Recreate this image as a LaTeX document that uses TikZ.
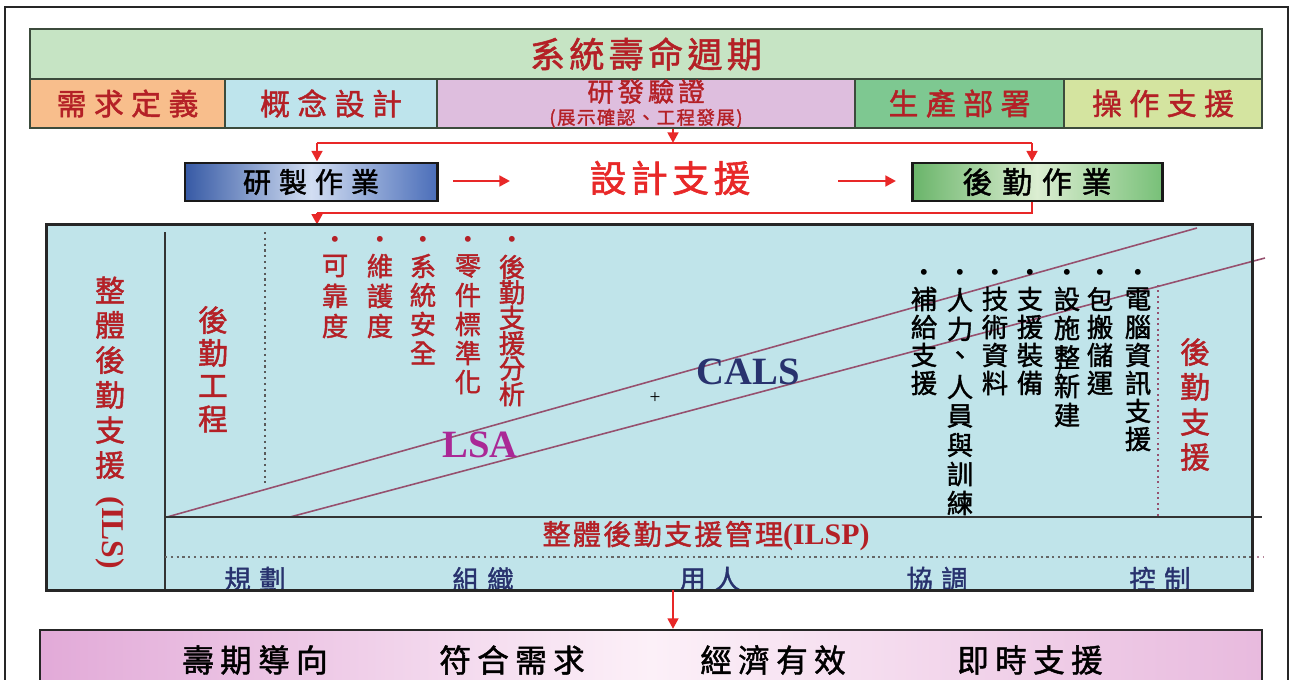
\documentclass[tikz,border=0pt]{standalone}
\usepackage{fontspec}
\setmainfont{Liberation Serif}
\newfontfamily\cjk{Noto Sans CJK TC}[FakeBold=1.5]
\newfontfamily\tms{Liberation Serif}
\usetikzlibrary{arrows.meta}
\definecolor{hdrg}{RGB}{198,228,196}
\definecolor{corange}{RGB}{248,190,140}
\definecolor{cblue}{RGB}{190,228,236}
\definecolor{cpurple}{RGB}{222,190,222}
\definecolor{cgreen}{RGB}{126,200,145}
\definecolor{cygreen}{RGB}{212,228,160}
\definecolor{mainfill}{RGB}{192,228,234}
\definecolor{tred}{RGB}{180,32,38}
\definecolor{lred}{RGB}{232,40,40}
\definecolor{navy}{RGB}{40,50,110}
\definecolor{lsac}{RGB}{170,40,150}
\definecolor{diag}{RGB}{150,80,110}
\definecolor{hdrline}{RGB}{60,75,60}
\definecolor{bdark}{RGB}{55,90,165}
\definecolor{blight}{RGB}{210,222,242}
\definecolor{bmid}{RGB}{75,110,185}
\definecolor{gdark}{RGB}{105,180,105}
\definecolor{glight}{RGB}{220,238,210}
\definecolor{gmid}{RGB}{120,192,120}
\definecolor{pdark}{RGB}{226,170,216}
\definecolor{plight}{RGB}{252,240,248}
\definecolor{pmid}{RGB}{232,186,222}
\newcommand\pxu{0.02cm}
\newcommand\fs[2]{\fontsize{#1}{#2}\selectfont}
\newcommand\ls[1]{\addfontfeatures{LetterSpace=#1}}
\newcommand\vtxt[6]{\foreach \ch [count=\i from 0] in {#6}{\node[#5] (#1-\i) at (#2,{#3+\i*#4}) {\ch};}}
\begin{document}
\begin{tikzpicture}[x=0.02cm,y=-0.02cm,
  wh/.style 2 args={minimum width={#1*\pxu}, minimum height={#2*\pxu}},
  cell/.style={draw=hdrline, line width=1.1pt, inner sep=0pt},
  rowtxt/.style={font=\cjk\fs{17}{20}\ls{25}, text=tred},
  tx/.style={inner sep=0pt, anchor=center},
  redv/.style={tx, font=\cjk\fs{15}{17}, text=tred},
  redbig/.style={tx, font=\cjk\fs{17}{19}, text=tred},
  blkv/.style={tx, font=\cjk\fs{15}{17}, text=black},
  bul/.style={tx, font=\tms\fs{14}{15}},
  redline/.style={draw=lred, line width=1.6pt},
  redarrow/.style={redline, -{Triangle[length=6pt,width=6pt]}},
  opbox/.style={draw=black!90, line width=1.7pt, inner sep=0pt}
]
\useasboundingbox (0,0) rectangle (1290,679);
\fill[white] (0,0) rectangle (1290,679);
\draw[line width=1.1pt, black!85] (5,700) -- (5,7) -- (1288,7) -- (1288,700);

% header
\node[cell, fill=hdrg, wh={1232}{50}, font=\cjk\fs{20}{22}\ls{12}, text=tred] (title) at (646,54) {系統壽命週期};
\node[cell, fill=corange, wh={195}{49}, rowtxt] (c1) at (127.5,103.5) {需求定義};
\node[cell, fill=cblue, wh={212}{49}, rowtxt] (c2) at (331,103.5) {概念設計};
\node[cell, fill=cpurple, wh={418}{49}, align=center, text=tred, font=\cjk\fs{10.5}{13}] (c3) at (646,103.5)
  {{\cjk\fs{15}{17}\ls{15}研發驗證}\\[0pt]{\cjk\fs{10.5}{12}\ls{8}(展示確認、工程發展)}};
\node[cell, fill=cgreen, wh={209}{49}, rowtxt] (c4) at (959.5,103.5) {生產部署};
\node[cell, fill=cygreen, wh={198}{49}, rowtxt] (c5) at (1163,103.5) {操作支援};

% operation boxes
\node[opbox, left color=bdark, right color=bmid, middle color=blight,
  wh={252}{38}, font=\cjk\fs{16}{18}\ls{28}] (rz) at (311,182) {研製作業};
\node[opbox, left color=gdark, right color=gmid, middle color=glight,
  wh={250}{38}, font=\cjk\fs{17}{19}\ls{33}] (hq) at (1037,182) {後勤作業};
\node[tx, font=\cjk\fs{21}{24}\ls{12}, text=lred] (ds) at (670,178) {設計支援};

% red connectors
\coordinate (j1) at (673,143);
\coordinate (tl) at (317,143);
\coordinate (tr) at (1032,143);
\coordinate (bl) at (317,213);
\coordinate (br) at (1032,213);
\draw[redarrow] (c3.south -| j1) -- (j1);
\draw[redline] (tl) -- (tr);
\draw[redarrow] (tl) -- (rz.north -| tl);
\draw[redarrow] (tr) -- (hq.north -| tr);
\draw[redline] (hq.south -| br) -- (br) -- (bl);
\coordinate (a1s) at (453,181); \coordinate (a1e) at (510,181);
\coordinate (a2s) at (838,181); \coordinate (a2e) at (896,181);
\draw[redarrow] (a1s) -- (a1e);
\draw[redarrow] (a2s) -- (a2e);

% main box
\node[fill=mainfill, draw=none, inner sep=0pt, wh={1205}{365}] (main) at (649.5,407.5) {};
\draw[redarrow] (bl) -- (main.north -| bl);
\draw[black!80, line width=1.2pt] (165,232) -- (165,590);
\draw[black!65, dotted, line width=1.3pt] (265,232) -- (265,483);
\draw[diag, line width=0.9pt] (167,517) -- (1197,228);
\draw[diag, line width=0.9pt] (290,517) -- (1265,258);
\draw[black!80, line width=1.2pt] (165,517) -- (1262,517);
\draw[black!60, dotted, line width=1.3pt] (165,557) -- (1252,557);
\draw[diag!70, dotted, line width=1.1pt] (1252,557) -- (1264,557);
\draw[diag, dotted, line width=1.1pt] (1158,285) -- (1158,517);

% left labels
\vtxt{ils}{110}{290}{35}{redbig}{整,體,後,勤,支,援}
\node[tx, rotate=-90, font=\tms\bfseries\fs{18}{20}, text=tred] (ilsl) at (110,533) {(ILS)};
\vtxt{le}{213}{320}{33}{redbig}{後,勤,工,程}

% red bullet items
\foreach \xx/\nm in {335/a,380/b,423/c,468/d,512/e}{\node[bul, text=tred] (bl-\nm) at (\xx,242) {•};}
\vtxt{ra}{335}{266}{30}{redv}{可,靠,度}
\vtxt{rb}{380}{266}{30}{redv}{維,護,度}
\vtxt{rc}{423}{266}{29}{redv}{系,統,安,全}
\vtxt{rd}{468}{266}{29}{redv}{零,件,標,準,化}
\vtxt{re}{512}{267}{25.4}{redv}{後,勤,支,援,分,析}

% black bullet items
\foreach \xx/\nm in {924/a,960/b,995/c,1030/d,1067/e,1100/f,1138/g}{\node[bul, text=black] (bk-\nm) at (\xx,275) {•};}
\vtxt{ka}{924}{299}{28}{blkv}{補,給,支,援}
\vtxt{kb}{960}{300}{29}{blkv}{人,力,、,人,員,與,訓,練}
\vtxt{kc}{995}{299}{28}{blkv}{技,術,資,料}
\vtxt{kd}{1030}{299}{28}{blkv}{支,援,裝,備}
\vtxt{ke}{1067}{299}{29}{blkv}{設,施,整,新,建}
\node[tx, font=\tms\bfseries\fs{13}{14}, text=black] (slash) at (1059,373) {/};
\vtxt{kf}{1100}{299}{28}{blkv}{包,搬,儲,運}
\vtxt{kg}{1138}{299}{28}{blkv}{電,腦,資,訊,支,援}
\vtxt{rs}{1195}{352}{35}{redbig}{後,勤,支,援}

% LSA / CALS
\node[tx, font=\tms\bfseries\fs{22}{24}, text=lsac] (lsa) at (480,445) {LSA};
\node[tx, font=\tms\bfseries\fs{22}{24}, text=navy] (cals) at (748,372) {CALS};
\node[tx, font=\tms\fs{11}{12}] (plus) at (655,398) {+};

% ILSP
\node[tx, text=tred] (ilsp) at (706,536) {{\cjk\fs{16}{18}\ls{8}整體後勤支援管理}{\tms\bfseries\fs{17}{19}(ILSP)}};

% bottom row labels
\foreach \xx/\tt/\nm in {255/規劃/a,483/組織/b,710/用人/c,937/協調/d,1160/控制/e}{
  \node[tx, font=\cjk\fs{15}{17}\ls{32}, text=navy] (m-\nm) at (\xx,579) {\tt};}

\draw[black!85, line width=1.7pt] (main.north west) rectangle (main.south east);

% bottom box
\node[draw=black!85, line width=1.2pt, inner sep=0pt, left color=pdark, right color=pmid, middle color=plight,
  wh={1222}{70}] (bot) at (651,665) {};
\coordinate (ar) at (673,600);
\draw[redarrow] (main.south -| ar) -- (bot.north -| ar);
\foreach \xx/\tt/\nm in {255/壽期導向/a,512/符合需求/b,773/經濟有效/c,1030/即時支援/d}{
  \node[tx, font=\cjk\fs{18}{20}\ls{20}, text=black] (g-\nm) at (\xx,660) {\tt};}
\end{tikzpicture}
\end{document}
